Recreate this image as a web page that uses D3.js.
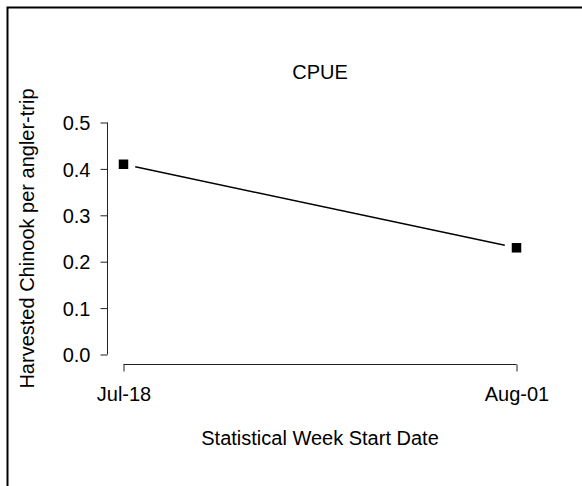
<!DOCTYPE html>
<html>
<head>
<meta charset="utf-8">
<script src="https://cdn.jsdelivr.net/npm/d3@7"></script>
<style>
  body { margin: 0; background: #fff; }
  svg text { font-family: Arial, "Liberation Sans", sans-serif; fill: #000; }
</style>
</head>
<body>
<div id="chart"></div>
<script>
// data
var weeks = ["Jul-18", "Aug-01"];
var cpue = [0.41, 0.23];
var yTicks = [0.0, 0.1, 0.2, 0.3, 0.4, 0.5];

var W = 582, H = 486;
var fs = 20;
var svg = d3.select("#chart").append("svg")
    .attr("width", W)
    .attr("height", H);

// outer frame (left + top edges only)
svg.append("path")
    .attr("d", "M7.5,486V7.5H582")
    .attr("fill", "none")
    .attr("stroke", "#000")
    .attr("stroke-width", 2);

var x = d3.scalePoint().domain(weeks).range([123.5, 516.5]);
var y = d3.scaleLinear().domain([0, 0.5]).range([354.5, 122.5]);

// y axis
var yAxis = svg.append("g")
    .attr("transform", "translate(107.5,0)")
    .call(d3.axisLeft(y).tickValues(yTicks).tickFormat(d3.format(".1f")).tickSize(7).tickPadding(10));
yAxis.selectAll("text").attr("font-size", fs).attr("dy", "0.36em");
yAxis.selectAll("line").attr("stroke", "#222");

// x axis
var xAxis = svg.append("g")
    .attr("transform", "translate(0,364.5)")
    .call(d3.axisBottom(x).tickSize(7).tickPadding(15));
xAxis.selectAll("text").attr("font-size", fs);
xAxis.selectAll("line").attr("stroke", "#222");

// R style axis lines: only span first to last tick
yAxis.select(".domain").attr("stroke", "#222").attr("d", "M0," + y(0) + "V" + y(0.5));
xAxis.select(".domain").attr("stroke", "#222").attr("d", "M" + x(weeks[0]) + ",0H" + x(weeks[1]));
svg.selectAll(".tick text").attr("font-family", null);

// connecting line with gaps around the points
var gap = 12;
var pts = weeks.map(function (w, i) { return [x(w), y(cpue[i])]; });
for (var i = 0; i < pts.length - 1; i++) {
    var a = pts[i], b = pts[i + 1];
    var dx = b[0] - a[0], dy = b[1] - a[1];
    var len = Math.sqrt(dx * dx + dy * dy);
    var ux = dx / len, uy = dy / len;
    svg.append("line")
        .attr("x1", a[0] + ux * gap).attr("y1", a[1] + uy * gap)
        .attr("x2", b[0] - ux * gap).attr("y2", b[1] - uy * gap)
        .attr("stroke", "#000")
        .attr("stroke-width", 1.4);
}

// square markers
var sz = 9.5;
svg.selectAll(".pt")
    .data(cpue)
    .enter().append("rect")
    .attr("class", "pt")
    .attr("x", function (d, i) { return x(weeks[i]) - sz / 2; })
    .attr("y", function (d) { return y(d) - sz / 2; })
    .attr("width", sz)
    .attr("height", sz)
    .attr("fill", "#000");

// title
svg.append("text")
    .attr("x", (x.range()[0] + x.range()[1]) / 2)
    .attr("y", 79)
    .attr("text-anchor", "middle")
    .attr("font-size", fs)
    .text("CPUE");

// axis titles
svg.append("text")
    .attr("x", (x.range()[0] + x.range()[1]) / 2)
    .attr("y", 445)
    .attr("text-anchor", "middle")
    .attr("font-size", fs)
    .text("Statistical Week Start Date");

svg.append("text")
    .attr("transform", "translate(34," + (y(0) + y(0.5)) / 2 + ") rotate(-90)")
    .attr("text-anchor", "middle")
    .attr("font-size", fs)
    .text("Harvested Chinook per angler-trip");
</script>
</body>
</html>
